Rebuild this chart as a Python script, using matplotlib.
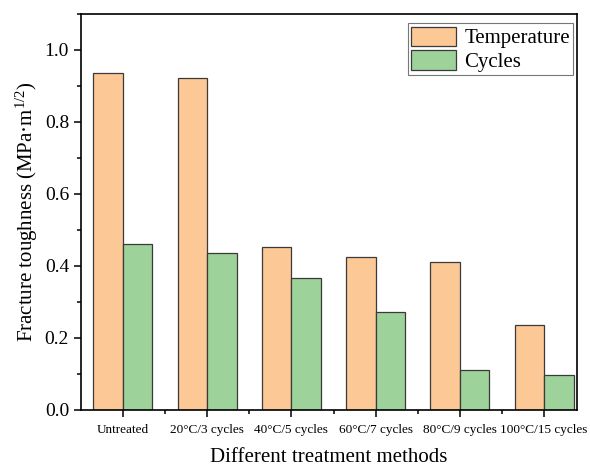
import numpy as np
import matplotlib
matplotlib.use("Agg")
import matplotlib.pyplot as plt
from matplotlib.ticker import MultipleLocator, FixedLocator

plt.rcParams['font.family'] = ['Liberation Serif', 'DejaVu Serif']
plt.rcParams['mathtext.fontset'] = 'custom'
plt.rcParams['mathtext.rm'] = 'Liberation Serif'
plt.rcParams['mathtext.it'] = 'Liberation Serif:italic'

# Fracture toughness for each treatment
methods = ['Untreated', '20°C/3 cycles', '40°C/5 cycles', '60°C/7 cycles',
           '80°C/9 cycles', '100°C/15 cycles']
temperature = [0.935, 0.92, 0.452, 0.425, 0.41, 0.235]
cycles = [0.461, 0.436, 0.365, 0.27, 0.11, 0.096]

x = np.arange(len(methods))
w = 0.35

fig = plt.figure(figsize=(5.9, 4.66), dpi=100)
ax = fig.add_axes([0.137, 0.121, 0.841, 0.850])

ax.bar(x - w/2, temperature, w, color='#FCC896', edgecolor='#3a3a3a',
       linewidth=0.9, label='Temperature')
ax.bar(x + w/2, cycles, w, color='#9DD29A', edgecolor='#3a3a3a',
       linewidth=0.9, label='Cycles')

ax.set_xlim(-0.5, 5.39)
ax.set_ylim(0, 1.1)
ax.set_xticks(x)
ax.set_xticklabels(methods, fontsize=9.5)
ax.xaxis.set_minor_locator(FixedLocator(x[:-1] + 0.5))
ax.yaxis.set_minor_locator(MultipleLocator(0.1))
yt = np.arange(0, 1.01, 0.2)
ax.set_yticks(yt)
ax.set_yticklabels([f'{v:.1f}' for v in yt], fontsize=14)

ax.tick_params(which='major', direction='out', length=5, width=1.1)
ax.tick_params(which='minor', direction='out', length=3, width=1.1)
ax.tick_params(axis='x', pad=5)
for s in ax.spines.values():
    s.set_linewidth(1.2)

ax.set_xlabel('Different treatment methods', fontsize=15, labelpad=9)
ax.set_ylabel('Fracture toughness (MPa·m$^{1/2}$)', fontsize=15, labelpad=3)

leg = ax.legend(loc='upper right', bbox_to_anchor=(0.992, 0.975),
                fontsize=15, frameon=True, fancybox=False,
                edgecolor='#555555', handlelength=2.15, handleheight=1.05,
                handletextpad=0.4, labelspacing=0.1, borderpad=0.15,
                borderaxespad=0)
leg.get_frame().set_linewidth(0.8)

fig.savefig('out.png', dpi=100)
